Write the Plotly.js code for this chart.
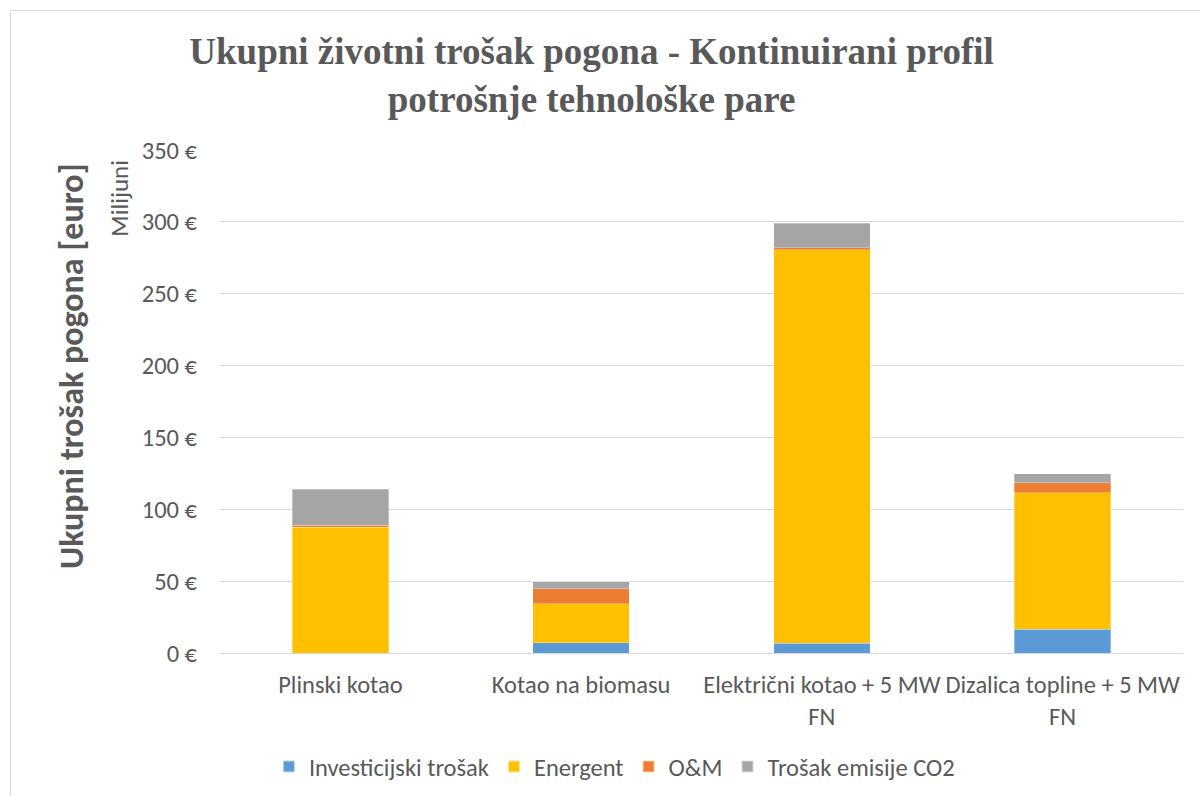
<!DOCTYPE html>
<html>
<head>
<meta charset="utf-8">
<script src="https://cdn.plot.ly/plotly-3.0.1.min.js"></script>
<style>
  html, body { margin: 0; padding: 0; background: #fff; overflow: hidden; }
  #frame { position: absolute; left: 10px; top: 10px; width: 1200px; height: 800px; border: 1px solid #d9d9d9; box-sizing: border-box; pointer-events: none; z-index: 5; }
  #chart { position: absolute; left: 0; top: 0; width: 1200px; height: 796px; }
</style>
</head>
<body>
<div id="chart"></div>
<div id="frame"></div>
<script>
const categories = ["Plinski kotao", "Kotao na biomasu", "Električni kotao + 5 MW<br>FN", "Dizalica topline + 5 MW<br>FN"];
const seriesNames = ["Investicijski trošak", "Energent", "O&M", "Trošak emisije CO2"];
const investicijski = [0, 7.2, 6.7, 16.7];
const energent = [87.5, 26.9, 274.0, 94.9];
const om = [1.5, 10.6, 1.3, 6.9];
const co2 = [25.0, 4.9, 17.0, 6.1];
const yTickVals = [0, 50, 100, 150, 200, 250, 300, 350];
const yTickText = ["0 €", "50 €", "100 €", "150 €", "200 €", "250 €", "300 €", "350 €"];

const colors = ["#5B9BD5", "#FFC000", "#ED7D31", "#A5A5A5"];
const values = [investicijski, energent, om, co2];

const traces = values.map((v, i) => ({
  type: "bar",
  name: seriesNames[i],
  x: categories,
  y: v,
  marker: { color: colors[i], line: { color: "rgba(255,255,255,0.6)", width: 0.5 } },
  hoverinfo: "skip"
}));

const fontFam = "Carlito, Lato, 'Liberation Sans', sans-serif";
const fs = 24.5;

const layout = {
  width: 1200,
  height: 796,
  barmode: "stack",
  bargap: 0.6,
  paper_bgcolor: "rgba(0,0,0,0)",
  plot_bgcolor: "#fff",
  margin: { l: 220, r: 17, t: 150, b: 143 },
  font: { family: fontFam, color: "#595959", size: fs },
  title: {
    text: "Ukupni životni trošak pogona - Kontinuirani profil<br>potrošnje tehnološke pare",
    font: { family: "'Liberation Serif', 'Times New Roman', serif", size: 37, color: "#595959", weight: "bold" },
    xref: "container", x: 0.493, xanchor: "center",
    yref: "container", y: 0.92, yanchor: "top"
  },
  xaxis: {
    showgrid: false,
    showline: true,
    linecolor: "#d9d9d9",
    linewidth: 1,
    ticks: "",
    ticklabelstandoff: 10,
    tickfont: { size: fs, color: "#595959", family: fontFam },
    fixedrange: true
  },
  yaxis: {
    range: [0, 350],
    tickmode: "array",
    tickvals: yTickVals,
    ticktext: yTickText,
    showgrid: true,
    gridcolor: "#d9d9d9",
    gridwidth: 1,
    zeroline: false,
    showline: false,
    ticks: "",
    ticklabelstandoff: 22,
    tickfont: { size: fs, color: "#595959", family: fontFam },
    fixedrange: true
  },
  showlegend: true,
  legend: {
    orientation: "h",
    xref: "container", x: 0.512, xanchor: "center",
    yref: "container", y: 0.037, yanchor: "middle",
    font: { size: fs, color: "#595959", family: fontFam },
    traceorder: "normal",
    itemwidth: 30,
    itemsizing: "constant"
  },
  annotations: [
    {
      text: "<b>Ukupni trošak pogona [euro]</b>",
      xref: "paper", yref: "paper",
      x: -0.154, y: 0.57,
      xanchor: "center", yanchor: "middle",
      textangle: -90,
      showarrow: false,
      font: { size: 34, color: "#595959", family: fontFam }
    },
    {
      text: "Milijuni",
      xref: "paper", yref: "paper",
      x: -0.104, y: 0.905,
      xanchor: "center", yanchor: "middle",
      textangle: -90,
      showarrow: false,
      font: { size: 25, color: "#595959", family: fontFam }
    }
  ]
};

Plotly.newPlot("chart", traces, layout, { staticPlot: true, displayModeBar: false });
</script>
</body>
</html>
